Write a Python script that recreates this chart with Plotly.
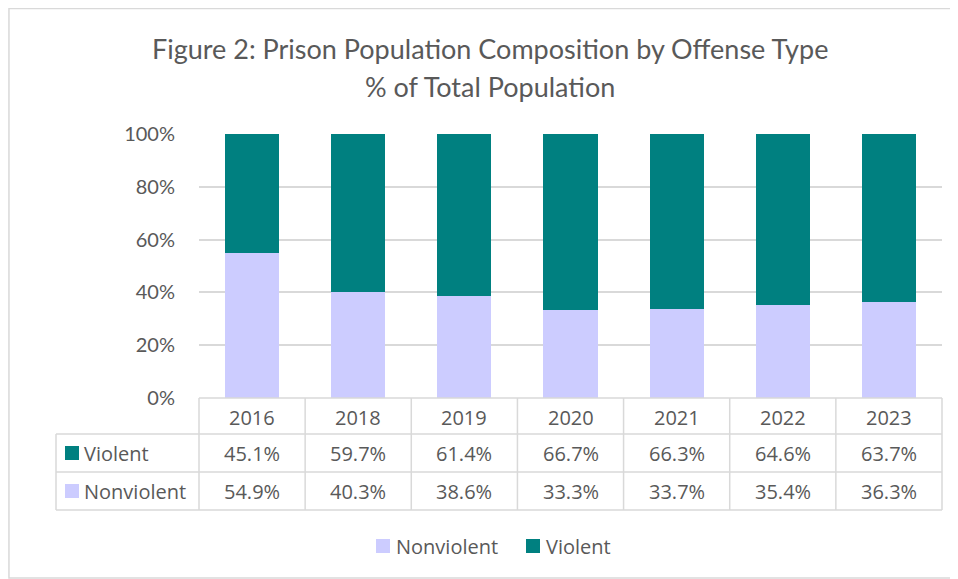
import plotly.graph_objects as go

years = ["2016", "2018", "2019", "2020", "2021", "2022", "2023"]
violent = [45.1, 59.7, 61.4, 66.7, 66.3, 64.6, 63.7]
nonviolent = [54.9, 40.3, 38.6, 33.3, 33.7, 35.4, 36.3]
series_names = ["Nonviolent", "Violent"]
colors = {"Nonviolent": "#CCCCFF", "Violent": "#008080"}

W, H = 958, 579
OFF = 8  # page body margin
TXT = "#595959"
GRID = "#D9D9D9"
TITLE_FONT = "Lato, 'Open Sans', sans-serif"
FONT = "'Open Sans', 'Noto Sans', sans-serif"

def px(x):
    return (x - OFF) / W

def py(y):
    return 1 - (y - OFF) / H

plot_l, plot_r, plot_t, plot_b = 199, 942, 134, 398
row_edges = [398, 434, 472, 510]
tbl_left = 56

fig = go.Figure()
fig.add_trace(go.Bar(x=years, y=nonviolent, name="Nonviolent",
                     marker=dict(color=colors["Nonviolent"], line=dict(width=0))))
fig.add_trace(go.Bar(x=years, y=violent, name="Violent",
                     marker=dict(color=colors["Violent"], line=dict(width=0))))

shapes = []
shapes.append(dict(type="rect", xref="paper", yref="paper", x0=0.001, x1=px(957), y0=py(578), y1=0.999,
                   line=dict(color=GRID, width=1.5)))
ncol = len(years)
colw = (plot_r - plot_l) / ncol
shapes.append(dict(type="line", xref="paper", yref="paper", x0=px(plot_l), x1=px(plot_r),
                   y0=py(row_edges[0]), y1=py(row_edges[0]), line=dict(color=GRID, width=1.5)))
for ry in row_edges[1:]:
    shapes.append(dict(type="line", xref="paper", yref="paper", x0=px(tbl_left), x1=px(plot_r),
                       y0=py(ry), y1=py(ry), line=dict(color=GRID, width=1.5)))
for i in range(ncol + 1):
    xx = plot_l + i * colw
    shapes.append(dict(type="line", xref="paper", yref="paper", x0=px(xx), x1=px(xx),
                       y0=py(row_edges[0]), y1=py(row_edges[-1]), line=dict(color=GRID, width=1.5)))
shapes.append(dict(type="line", xref="paper", yref="paper", x0=px(tbl_left), x1=px(tbl_left),
                   y0=py(row_edges[1]), y1=py(row_edges[-1]), line=dict(color=GRID, width=1.5)))

annotations = []
for i, yr in enumerate(years):
    annotations.append(dict(x=i, xref="x", y=py((row_edges[0] + row_edges[1]) / 2 + 1), yref="paper",
                            text=yr, showarrow=False, font=dict(family=FONT, size=20, color=TXT),
                            xanchor="center", yanchor="middle"))
table_rows = [("Violent", violent), ("Nonviolent", nonviolent)]
for r, (nm, vals) in enumerate(table_rows):
    cy = (row_edges[r + 1] + row_edges[r + 2]) / 2
    for i, v in enumerate(vals):
        annotations.append(dict(x=i, xref="x", y=py(cy), yref="paper", text=f"{v:.1f}%",
                                showarrow=False, font=dict(family=FONT, size=20, color=TXT),
                                xanchor="center", yanchor="middle"))
    shapes.append(dict(type="rect", xref="paper", yref="paper", x0=px(65), x1=px(79),
                       y0=py(cy + 7), y1=py(cy - 7), fillcolor=colors[nm], line=dict(width=0)))
    annotations.append(dict(x=px(82), xref="paper", y=py(cy), yref="paper", text=nm, showarrow=False,
                            font=dict(family=FONT, size=20, color=TXT), xanchor="left", yanchor="middle"))

# manual legend below the table
leg_y = 546
leg_x = {"Nonviolent": 376, "Violent": 526}
for nm in series_names:
    x0 = leg_x[nm]
    shapes.append(dict(type="rect", xref="paper", yref="paper", x0=px(x0), x1=px(x0 + 14),
                       y0=py(leg_y + 7), y1=py(leg_y - 7), fillcolor=colors[nm], line=dict(width=0)))
    annotations.append(dict(x=px(x0 + 18), xref="paper", y=py(leg_y), yref="paper", text=nm,
                            showarrow=False, font=dict(family=FONT, size=20, color=TXT),
                            xanchor="left", yanchor="middle"))

annotations.append(dict(x=px(490), xref="paper", y=py(49), yref="paper",
                        text="Figure 2: Prison Population Composition by Offense Type",
                        showarrow=False, font=dict(family=TITLE_FONT, size=27, color=TXT),
                        xanchor="center", yanchor="middle"))
annotations.append(dict(x=px(490), xref="paper", y=py(86), yref="paper",
                        text="% of Total Population",
                        showarrow=False, font=dict(family=TITLE_FONT, size=27, color=TXT),
                        xanchor="center", yanchor="middle"))

fig.update_layout(
    width=W, height=H,
    margin=dict(l=0, r=0, t=0, b=0, pad=0, autoexpand=False),
    paper_bgcolor="white", plot_bgcolor="white",
    barmode="stack", bargap=0.49,
    showlegend=False,
    xaxis=dict(type="category", domain=[px(plot_l), px(plot_r)], range=[-0.5, ncol - 0.5],
               showticklabels=False, showgrid=False, showline=False, zeroline=False, ticks=""),
    yaxis=dict(domain=[py(plot_b), py(plot_t)], range=[0, 100], dtick=20, ticksuffix="%",
               showgrid=True, gridcolor=GRID, gridwidth=1.5, zeroline=False, showline=False,
               tickfont=dict(family=TITLE_FONT, size=20, color=TXT), ticks="", ticklabelstandoff=23),
    shapes=shapes, annotations=annotations,
)

fig.write_html("out.html")
